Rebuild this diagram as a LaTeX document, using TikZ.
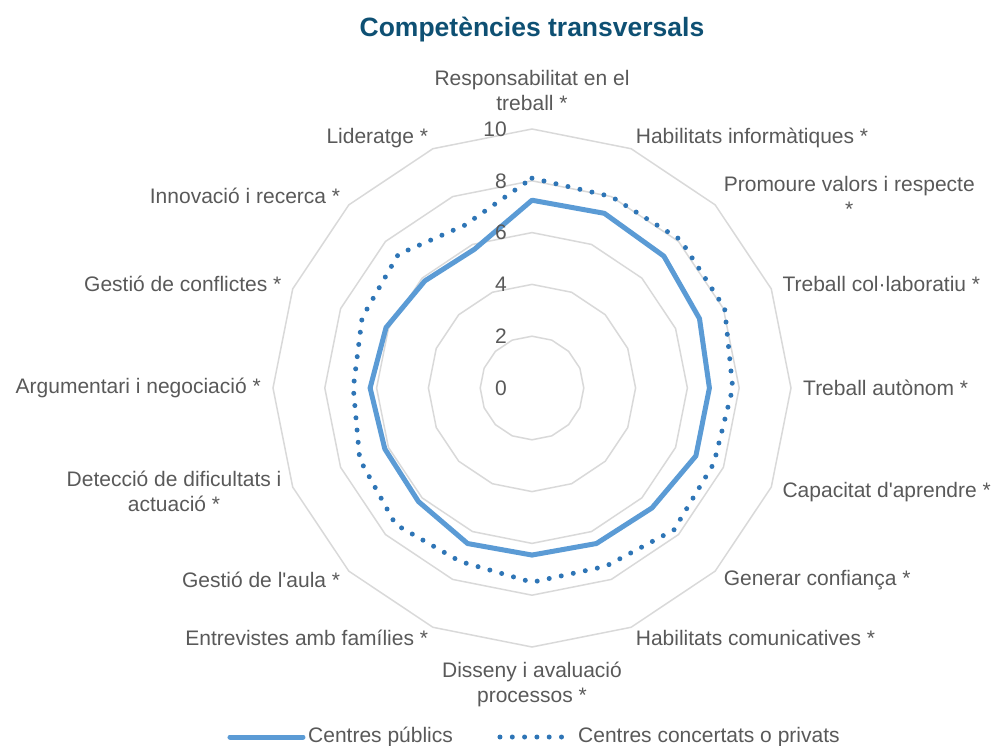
\documentclass[tikz,border=0pt]{standalone}
\usepackage{fontspec}
\setmainfont{Liberation Sans}
\usepackage{tikz}

\definecolor{titleblue}{RGB}{14,80,115}
\definecolor{labgray}{RGB}{89,89,89}
\definecolor{ringgray}{RGB}{217,217,217}
\definecolor{pubblue}{RGB}{91,155,213}
\definecolor{privblue}{RGB}{46,117,182}

\begin{document}
\begin{tikzpicture}[x=1pt,y=1pt,
  lab/.style={text=labgray,font=\fontsize{21}{25}\selectfont,inner sep=0pt,align=center},
  ring/.style={draw=ringgray,line width=1.5pt},
  pub/.style={draw=pubblue,line width=5pt,line join=round,line cap=round},
  priv/.style={draw=privblue,line width=5pt,line cap=round,dash pattern=on 0pt off 12.3pt}]

\useasboundingbox (-532,-358) rectangle (464,388);

%% title
\node[font=\bfseries\fontsize{26.5}{30}\selectfont,text=titleblue] (title) at (0,358) {Competències transversals};

%% rings
\foreach \r in {2,4,...,10}
{
  \draw[ring] (90:25.9*\r) \foreach \i in {1,...,15} { -- ({90-22.5*\i}:25.9*\r) } -- cycle;
}

%% make points pubi, privi
\foreach \v [count=\i from 0] in {7.25,7.3,7.2,7.0,6.85,6.85,6.55,6.5,6.45,6.5,6.2,6.15,6.25,6.1,5.85,5.8}
{
  \coordinate (pub\i) at ({90-22.5*\i}:25.9*\v);
}
\foreach \v [count=\i from 0] in {8.1,8.0,8.1,8.05,7.75,7.6,7.75,7.45,7.5,7.25,7.45,7.2,6.9,7.1,7.3,6.8}
{
  \coordinate (priv\i) at ({90-22.5*\i}:25.9*\v);
}

\draw[priv] (priv0) \foreach \i in {1,...,15} { -- (priv\i) } -- cycle;
\draw[pub] (pub0) \foreach \i in {1,...,15} { -- (pub\i) } -- cycle;

%% scale
\foreach \v in {0,2,...,10}
{
  \node[lab,anchor=east] (sc\v) at (-25,25.9*\v) {\v};
}

%% labels
\node[lab,anchor=south] (l0) at (90:277) {Responsabilitat en el\\treball *};
\node[lab,anchor=west] (l1) at (67.5:271) {Habilitats informàtiques *};
\node[lab,anchor=west] (l2) at (45:271) {Promoure valors i respecte\\*};
\node[lab,anchor=west] (l3) at (22.5:271) {Treball col·laboratiu *};
\node[lab,anchor=west] (l4) at (0:271) {Treball autònom *};
\node[lab,anchor=west] (l5) at (-22.5:271) {Capacitat d\textquotesingle aprendre *};
\node[lab,anchor=west] (l6) at (-45:271) {Generar confiança *};
\node[lab,anchor=west] (l7) at (-67.5:271) {Habilitats comunicatives *};
\node[lab,anchor=north] (l8) at (-90:274) {Disseny i avaluació\\processos *};
\node[lab,anchor=east] (l9) at (-112.5:271) {Entrevistes amb famílies *};
\node[lab,anchor=east] (l10) at (-135:271) {Gestió de l\textquotesingle aula *};
\node[lab,anchor=east] (l11) at (-157.5:271) {Detecció de dificultats i\\actuació *};
\node[lab,anchor=east] (l12) at (180:271) {Argumentari i negociació *};
\node[lab,anchor=east] (l13) at (157.5:271) {Gestió de conflictes *};
\node[lab,anchor=east] (l14) at (135:271) {Innovació i recerca *};
\node[lab,anchor=east] (l15) at (112.5:271) {Lideratge *};

%% legend
\draw[pub] (-302,-349) -- (-229,-349);
\node[lab,anchor=west] (legpub) at (-224,-349) {Centres públics};
\draw[priv] (-32,-349) -- (30,-349);
\node[lab,anchor=west] (legpriv) at (46,-349) {Centres concertats o privats};

\end{tikzpicture}
\end{document}
